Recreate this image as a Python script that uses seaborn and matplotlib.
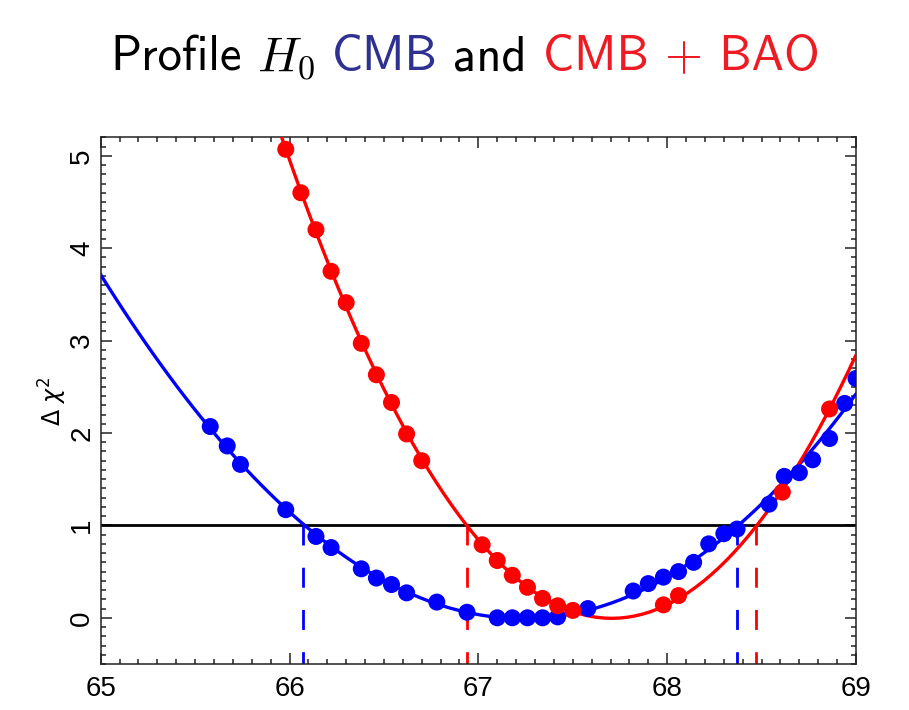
import pandas as pd
import seaborn as sns
import matplotlib.pyplot as plt
from matplotlib.ticker import MultipleLocator

# valores: perfil de H0
h0_cmb = [65.58, 65.67, 65.74, 65.98, 66.14, 66.22, 66.38, 66.46, 66.54, 66.62,
          66.78, 66.94, 67.10, 67.18, 67.26, 67.34, 67.42, 67.58, 67.82, 67.90,
          67.98, 68.06, 68.14, 68.22, 68.30, 68.37, 68.54, 68.62, 68.70, 68.77,
          68.86, 68.94, 69.00]
chi2_cmb = [2.07, 1.86, 1.66, 1.17, 0.88, 0.76, 0.53, 0.43, 0.36, 0.27,
            0.17, 0.06, 0.00, 0.00, 0.00, 0.00, 0.01, 0.10, 0.29, 0.37,
            0.44, 0.50, 0.60, 0.80, 0.91, 0.96, 1.23, 1.53, 1.57, 1.71,
            1.94, 2.32, 2.59]

h0_bao = [65.98, 66.06, 66.14, 66.22, 66.30, 66.38, 66.46, 66.54, 66.62, 66.70,
          67.02, 67.10, 67.18, 67.26, 67.34, 67.42, 67.50, 67.98, 68.06, 68.61,
          68.86]
chi2_bao = [5.07, 4.60, 4.20, 3.75, 3.41, 2.97, 2.63, 2.33, 1.99, 1.70,
            0.79, 0.62, 0.46, 0.33, 0.21, 0.13, 0.08, 0.14, 0.24, 1.36,
            2.26]

# limites a 1 sigma (donde el ajuste corta delta chi2 = 1)
lim_cmb = [66.07, 68.37]
lim_bao = [66.94, 68.47]

df_cmb = pd.DataFrame({'H0': h0_cmb, 'dchi2': chi2_cmb})
df_bao = pd.DataFrame({'H0': h0_bao, 'dchi2': chi2_bao})

sns.set_style('ticks')
plt.rcParams['font.family'] = ['Liberation Sans', 'DejaVu Sans']
plt.rcParams['mathtext.fontset'] = 'cm'

azul = '#0000ff'
rojo = '#ff0000'

fig = plt.figure(figsize=(9.09, 7.10), dpi=100)
ax = fig.add_axes([0.1108, 0.0648, 0.8309, 0.7418])
ax.set_xlim(65, 69)
ax.set_ylim(-0.5, 5.2)

# linea horizontal en delta chi2 = 1 y los limites punteados
ax.axhline(1, color='black', lw=2.0, zorder=2)
for x in lim_cmb:
    ax.plot([x, x], [1, -0.5], color=azul, lw=2.0, dashes=(7.2, 8), zorder=2)
for x in lim_bao:
    ax.plot([x, x], [1, -0.5], color=rojo, lw=2.0, dashes=(7.2, 8), zorder=2)

# ajustes polinomicos
sns.regplot(data=df_cmb, x='H0', y='dchi2', order=3, ci=None, scatter=False,
            truncate=False, ax=ax, line_kws=dict(color=azul, lw=2.4, zorder=3))
sns.regplot(data=df_bao, x='H0', y='dchi2', order=2, ci=None, scatter=False,
            truncate=False, ax=ax, line_kws=dict(color=rojo, lw=2.4, zorder=3))

# puntos
sns.scatterplot(data=df_cmb, x='H0', y='dchi2', color=azul, s=150,
                edgecolor='none', ax=ax, zorder=4)
sns.scatterplot(data=df_bao, x='H0', y='dchi2', color=rojo, s=150,
                edgecolor='none', ax=ax, zorder=4)

ax.set_xlim(65, 69)
ax.set_ylim(-0.5, 5.2)
ax.set_xlabel('')
ax.set_ylabel(r'$\Delta\ \chi^2$', fontsize=17, math_fontfamily='dejavusans',
              labelpad=0, color='black')

ax.xaxis.set_major_locator(MultipleLocator(1))
ax.xaxis.set_minor_locator(MultipleLocator(0.1))
ax.yaxis.set_major_locator(MultipleLocator(1))
ax.yaxis.set_minor_locator(MultipleLocator(0.1))
ax.tick_params(which='both', direction='in', top=True, right=True,
               color='#222222', width=1.1, labelcolor='black')
ax.tick_params(which='major', length=8, labelsize=20)
ax.tick_params(which='minor', length=3.6)
ax.tick_params(axis='x', pad=9)
ax.tick_params(axis='y', pad=4, labelrotation=90)
plt.setp(ax.get_yticklabels(), va='center')
for sp in ax.spines.values():
    sp.set_visible(True)
    sp.set_color('#222222')
    sp.set_linewidth(1.1)

# titulo con colores
partes = [('Profile', 'black'), (r'$H_0$', 'black'), ('CMB', '#2e3192'),
          ('and', 'black'), ('CMB + BAO', '#ed1c24')]
fig.canvas.draw()
r = fig.canvas.get_renderer()
x = 0.121
hueco = 16 / fig.bbox.width
for texto, color in partes:
    t = fig.text(x, 0.901, texto, color=color, fontsize=35, family='cmss10',
                 ha='left', va='baseline')
    bb = t.get_window_extent(renderer=r)
    x += bb.width / fig.bbox.width + hueco

fig.savefig('out.png', dpi=100)
